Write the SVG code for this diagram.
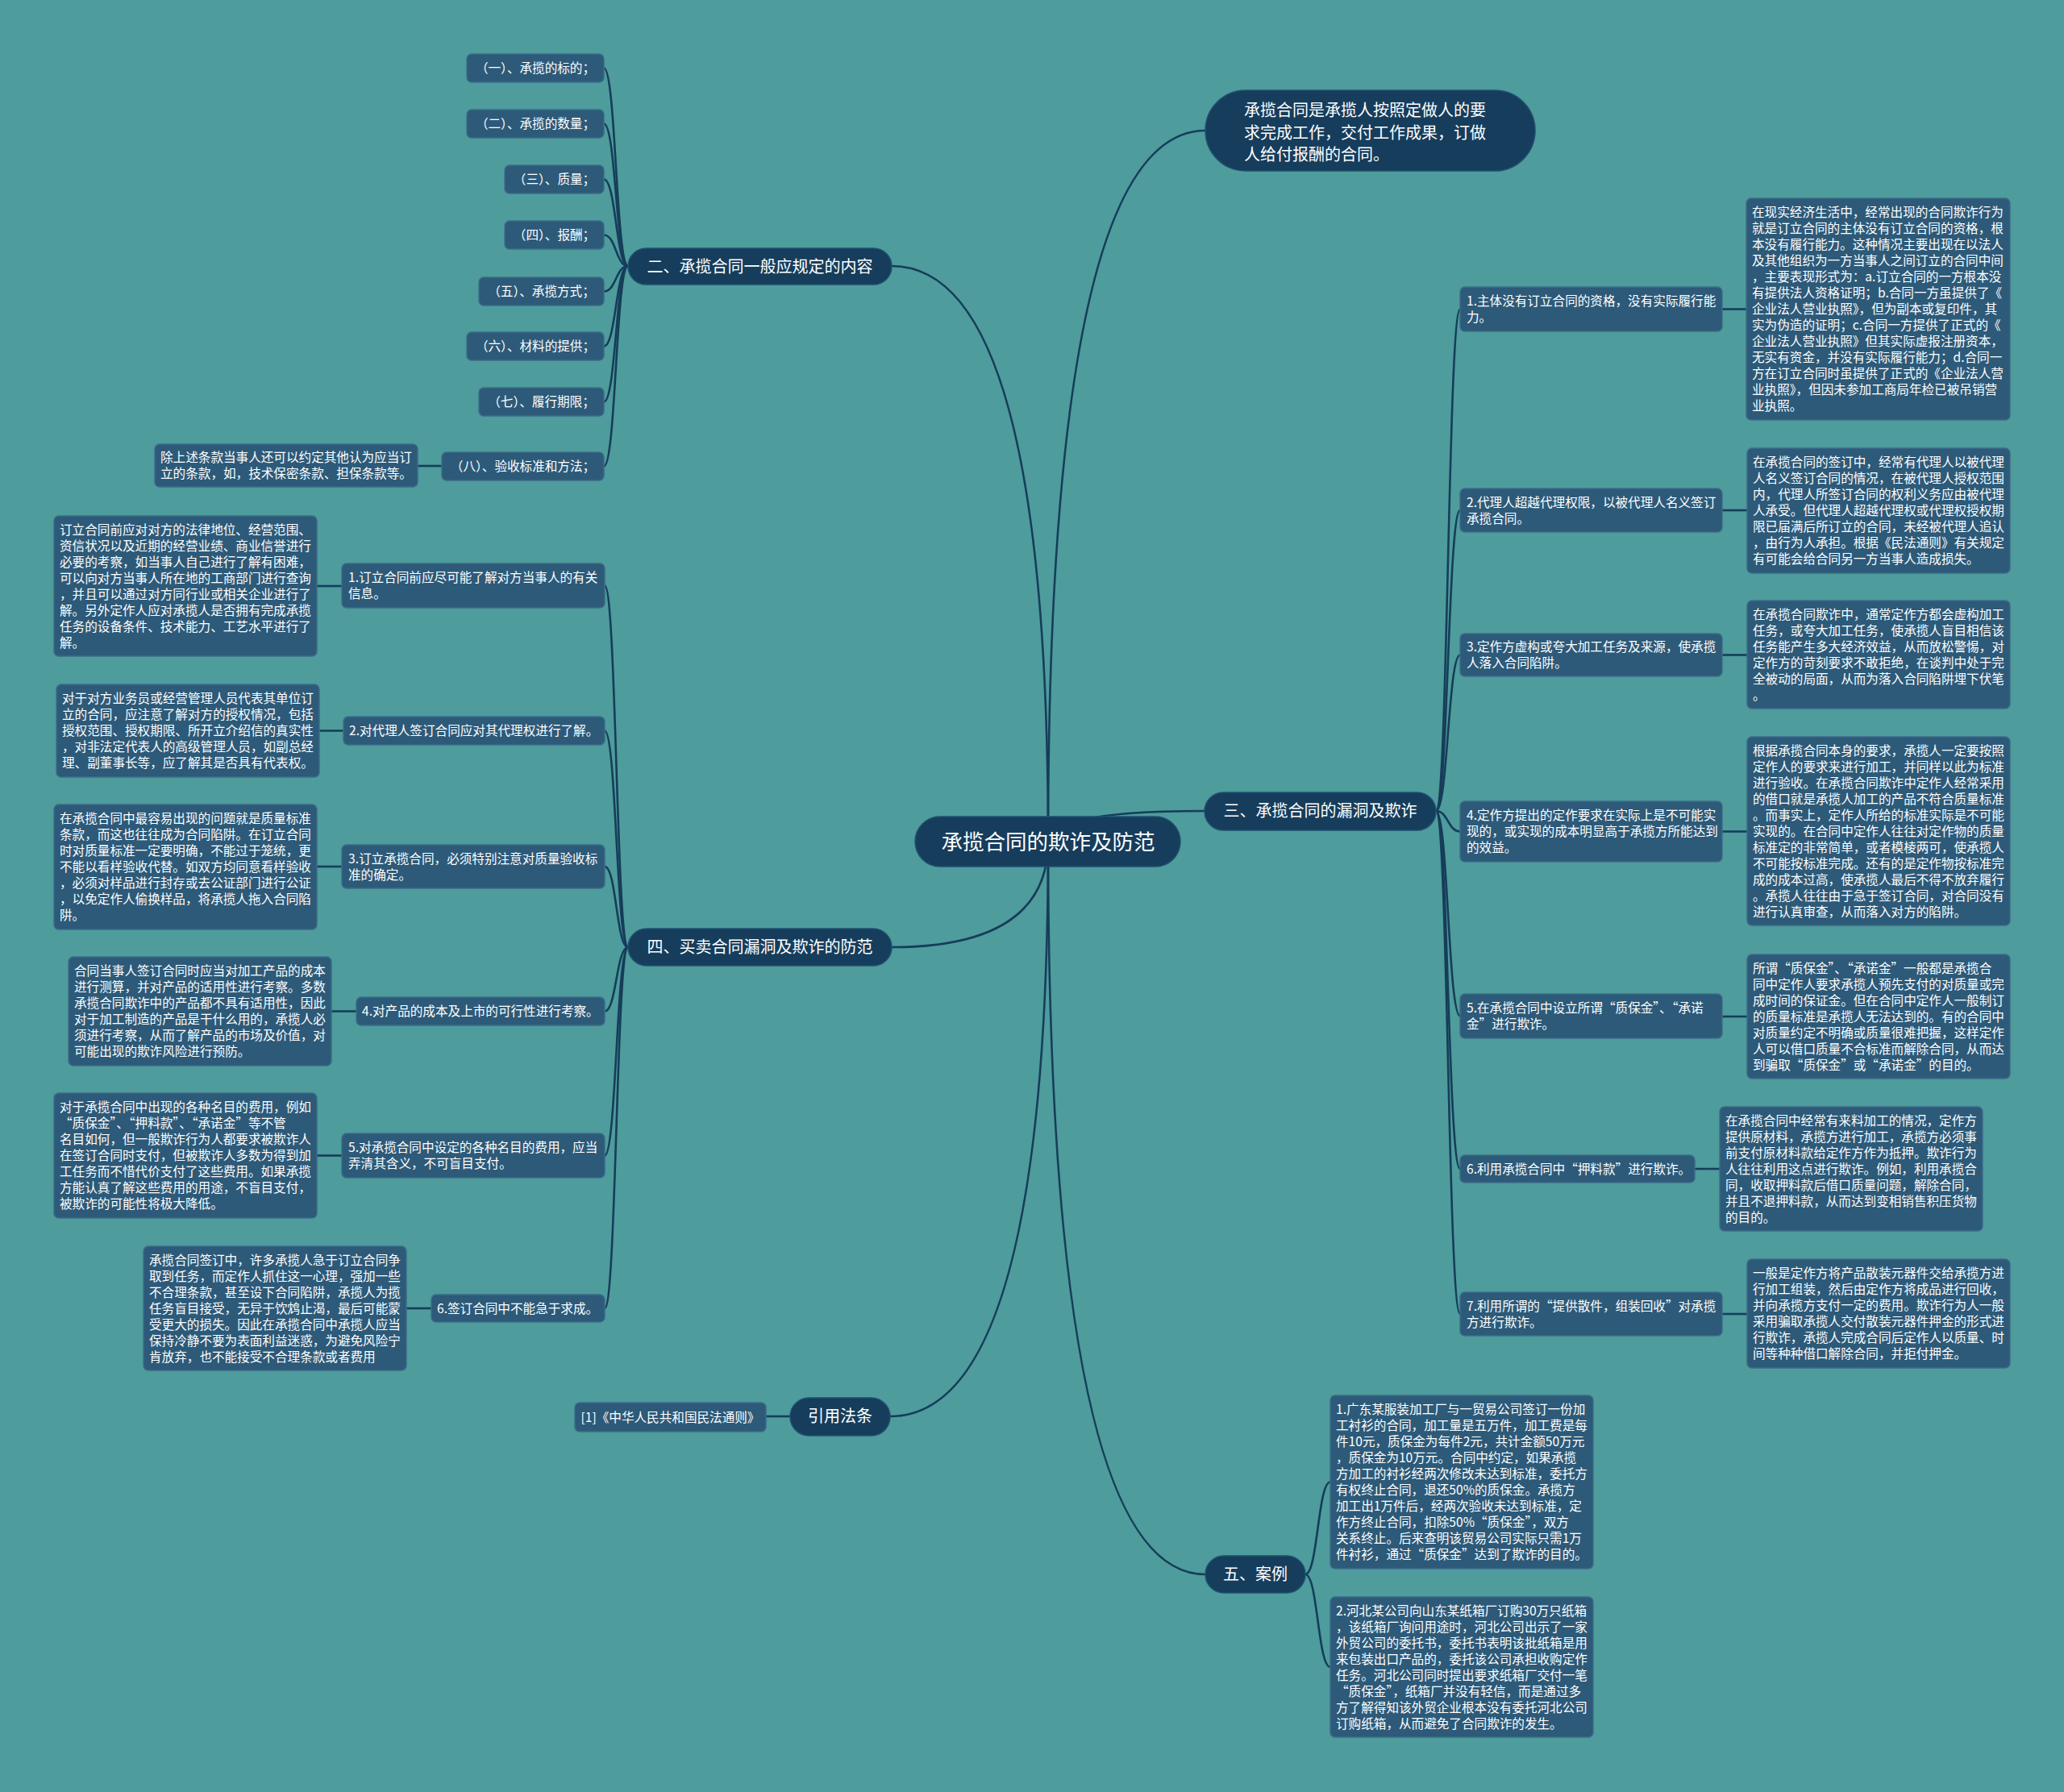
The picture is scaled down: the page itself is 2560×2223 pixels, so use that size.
<svg xmlns="http://www.w3.org/2000/svg" width="2560" height="2223" viewBox="0 0 2560 2223">
<style>
.link{fill:none;stroke:#163d5a;stroke-width:2.6}
.main{fill:#163d5c;stroke:#21506f;stroke-width:1.5}
.leaf{fill:#2d5a79;stroke:#3c6c89;stroke-width:1.5}
text{font-family:"Noto Sans CJK SC","Noto Sans",sans-serif;fill:#ffffff}
.f26{font-size:26.5px;text-anchor:middle}
.f20{font-size:20px}
.c20{font-size:20px;text-anchor:middle}
.f15{font-size:15.6px}
.c15{font-size:15.6px;text-anchor:middle}
.q{font-variant-east-asian:full-width;font-feature-settings:"fwid" 1}
</style>
<rect x="0" y="0" width="2560" height="2223" fill="#4e9c9c"/>
<g id="connectors">
<path class="link" d="M1300,1044 Q1300,162 1495,162"/>
<path class="link" d="M1300,1044 Q1300,1006 1494,1006"/>
<path class="link" d="M1300,1044 Q1300,1953 1495,1953"/>
<path class="link" d="M1300,1044 Q1300,330 1106,330"/>
<path class="link" d="M1300,1044 Q1300,1175 1106,1175"/>
<path class="link" d="M1300,1044 Q1300,1757 1104,1757"/>
<path class="link" d="M779,330 C764,330 764,84.5 749,84.5"/>
<path class="link" d="M779,330 C764,330 764,153.5 749,153.5"/>
<path class="link" d="M779,330 C764,330 764,222.5 749,222.5"/>
<path class="link" d="M779,330 C764,330 764,291.5 749,291.5"/>
<path class="link" d="M779,330 C764,330 764,361.5 749,361.5"/>
<path class="link" d="M779,330 C764,330 764,429.5 749,429.5"/>
<path class="link" d="M779,330 C764,330 764,498.5 749,498.5"/>
<path class="link" d="M779,330 C764,330 764,578.5 749,578.5"/>
<path class="link" d="M548,578 L518,578"/>
<path class="link" d="M779,1175 C764.5,1175 764.5,726.5 750,726.5"/>
<path class="link" d="M779,1175 C764.5,1175 764.5,906.5 750,906.5"/>
<path class="link" d="M779,1175 C764.5,1175 764.5,1075 750,1075"/>
<path class="link" d="M779,1175 C764.5,1175 764.5,1254.5 750,1254.5"/>
<path class="link" d="M779,1175 C764.5,1175 764.5,1433.5 750,1433.5"/>
<path class="link" d="M779,1175 C764.5,1175 764.5,1623 750,1623"/>
<path class="link" d="M424,727 L393,727"/>
<path class="link" d="M426,906.5 L396,906.5"/>
<path class="link" d="M424,1075 L393,1075"/>
<path class="link" d="M442,1254.5 L411,1254.5"/>
<path class="link" d="M424,1433.5 L393,1433.5"/>
<path class="link" d="M535,1623 L504,1623"/>
<path class="link" d="M1781,1006 C1796,1006 1796,383.5 1811,383.5"/>
<path class="link" d="M1781,1006 C1796,1006 1796,633 1811,633"/>
<path class="link" d="M1781,1006 C1796,1006 1796,812.5 1811,812.5"/>
<path class="link" d="M1781,1006 C1796,1006 1796,1031.5 1811,1031.5"/>
<path class="link" d="M1781,1006 C1796,1006 1796,1260.5 1811,1260.5"/>
<path class="link" d="M1781,1006 C1796,1006 1796,1450 1811,1450"/>
<path class="link" d="M1781,1006 C1796,1006 1796,1630 1811,1630"/>
<path class="link" d="M2136,383.5 L2166,383.5"/>
<path class="link" d="M2136,633 L2167,633"/>
<path class="link" d="M2136,812.5 L2167,812.5"/>
<path class="link" d="M2136,1031.5 L2167,1031.5"/>
<path class="link" d="M2136,1261 L2167,1261"/>
<path class="link" d="M2102,1450 L2133,1450"/>
<path class="link" d="M2136,1630 L2167,1630"/>
<path class="link" d="M1619,1953 C1634.5,1953 1634.5,1838.5 1650,1838.5"/>
<path class="link" d="M1619,1953 C1634.5,1953 1634.5,2068 1650,2068"/>
<path class="link" d="M980,1757 L950,1757"/>
</g>
<g id="root"><rect class="main" x="1135" y="1013" width="329" height="62" rx="31"/><text class="f26" x="1300" y="1053.5">承揽合同的欺诈及防范</text></g>
<g id="definition"><rect class="main" x="1495" y="112" width="409" height="100" rx="50"/><text class="f20" x="1543" y="144"><tspan x="1543" y="144">承揽合同是承揽人按照定做人的要</tspan><tspan x="1543" dy="27.5">求完成工作，交付工作成果，订做</tspan><tspan x="1543" dy="27.5">人给付报酬的合同。</tspan></text></g>
<g id="b2"><rect class="main" x="779" y="308" width="327" height="45" rx="22.5"/><text class="c20" x="942.5" y="337.5">二、承揽合同一般应规定的内容</text></g>
<g id="b3"><rect class="main" x="1494" y="983" width="287" height="47" rx="23.5"/><text class="c20" x="1637.5" y="1013">三、承揽合同的漏洞及欺诈</text></g>
<g id="b4"><rect class="main" x="779" y="1152" width="327" height="46" rx="23"/><text class="c20" x="942.5" y="1182">四、买卖合同漏洞及欺诈的防范</text></g>
<g id="b5"><rect class="main" x="1495" y="1930" width="124" height="46" rx="23"/><text class="c20" x="1557" y="1960">五、案例</text></g>
<g id="blaw"><rect class="main" x="980" y="1734" width="124" height="47" rx="23.5"/><text class="c20" x="1042" y="1764">引用法条</text></g>
<g id="law1"><rect class="leaf" x="713" y="1740" width="237" height="36" rx="6"/><text class="c15" x="831.5" y="1763.6">[1]《中华人民共和国民法通则》</text></g>
<g id="k1"><rect class="leaf" x="579" y="67" width="170" height="35" rx="6"/><text class="c15" x="664" y="90.1">（一）、承揽的标的；</text></g>
<g id="k2"><rect class="leaf" x="579" y="136" width="170" height="35" rx="6"/><text class="c15" x="664" y="159.1">（二）、承揽的数量；</text></g>
<g id="k3"><rect class="leaf" x="626" y="205" width="123" height="35" rx="6"/><text class="c15" x="687.5" y="228.1">（三）、质量；</text></g>
<g id="k4"><rect class="leaf" x="626" y="274" width="123" height="35" rx="6"/><text class="c15" x="687.5" y="297.1">（四）、报酬；</text></g>
<g id="k5"><rect class="leaf" x="594" y="344" width="155" height="35" rx="6"/><text class="c15" x="671.5" y="367.1">（五）、承揽方式；</text></g>
<g id="k6"><rect class="leaf" x="579" y="412" width="170" height="35" rx="6"/><text class="c15" x="664" y="435.1">（六）、材料的提供；</text></g>
<g id="k7"><rect class="leaf" x="594" y="481" width="155" height="35" rx="6"/><text class="c15" x="671.5" y="504.1">（七）、履行期限；</text></g>
<g id="k8"><rect class="leaf" x="548" y="561" width="201" height="35" rx="6"/><text class="c15" x="648.5" y="584.1">（八）、验收标准和方法；</text></g>
<g id="k8d"><rect class="leaf" x="192" y="551" width="326" height="53" rx="6"/><text class="f15" x="199" y="573.1"><tspan x="199" y="573.1">除上述条款当事人还可以约定其他认为应当订</tspan><tspan x="199" dy="20">立的条款，如，技术保密条款、担保条款等。</tspan></text></g>
<g id="p1"><rect class="leaf" x="424" y="699" width="326" height="55" rx="6"/><text class="f15" x="432" y="722.1"><tspan x="432" y="722.1">1.订立合同前应尽可能了解对方当事人的有关</tspan><tspan x="432" dy="20">信息。</tspan></text></g>
<g id="p1d"><rect class="leaf" x="67" y="640" width="326" height="174" rx="6"/><text class="f15" x="74" y="662.6"><tspan x="74" y="662.6">订立合同前应对对方的法律地位、经营范围、</tspan><tspan x="74" dy="20">资信状况以及近期的经营业绩、商业信誉进行</tspan><tspan x="74" dy="20">必要的考察，如当事人自己进行了解有困难，</tspan><tspan x="74" dy="20">可以向对方当事人所在地的工商部门进行查询</tspan><tspan x="74" dy="20">，并且可以通过对方同行业或相关企业进行了</tspan><tspan x="74" dy="20">解。另外定作人应对承揽人是否拥有完成承揽</tspan><tspan x="74" dy="20">任务的设备条件、技术能力、工艺水平进行了</tspan><tspan x="74" dy="20">解。</tspan></text></g>
<g id="p2"><rect class="leaf" x="426" y="889" width="324" height="35" rx="6"/><text class="f15" x="433" y="912.1">2.对代理人签订合同应对其代理权进行了解。</text></g>
<g id="p2d"><rect class="leaf" x="70" y="849" width="326" height="115" rx="6"/><text class="f15" x="77" y="872.1"><tspan x="77" y="872.1">对于对方业务员或经营管理人员代表其单位订</tspan><tspan x="77" dy="20">立的合同，应注意了解对方的授权情况，包括</tspan><tspan x="77" dy="20">授权范围、授权期限、所开立介绍信的真实性</tspan><tspan x="77" dy="20">，对非法定代表人的高级管理人员，如副总经</tspan><tspan x="77" dy="20">理、副董事长等，应了解其是否具有代表权。</tspan></text></g>
<g id="p3"><rect class="leaf" x="424" y="1048" width="326" height="54" rx="6"/><text class="f15" x="432" y="1070.6"><tspan x="432" y="1070.6">3.订立承揽合同，必须特别注意对质量验收标</tspan><tspan x="432" dy="20">准的确定。</tspan></text></g>
<g id="p3d"><rect class="leaf" x="67" y="998" width="326" height="155" rx="6"/><text class="f15" x="74" y="1021.1"><tspan x="74" y="1021.1">在承揽合同中最容易出现的问题就是质量标准</tspan><tspan x="74" dy="20">条款，而这也往往成为合同陷阱。在订立合同</tspan><tspan x="74" dy="20">时对质量标准一定要明确，不能过于笼统，更</tspan><tspan x="74" dy="20">不能以看样验收代替。如双方均同意看样验收</tspan><tspan x="74" dy="20">，必须对样品进行封存或去公证部门进行公证</tspan><tspan x="74" dy="20">，以免定作人偷换样品，将承揽人拖入合同陷</tspan><tspan x="74" dy="20">阱。</tspan></text></g>
<g id="p4"><rect class="leaf" x="442" y="1237" width="308" height="35" rx="6"/><text class="f15" x="449" y="1260.1">4.对产品的成本及上市的可行性进行考察。</text></g>
<g id="p4d"><rect class="leaf" x="85" y="1187" width="326" height="135" rx="6"/><text class="f15" x="92" y="1210.1"><tspan x="92" y="1210.1">合同当事人签订合同时应当对加工产品的成本</tspan><tspan x="92" dy="20">进行测算，并对产品的适用性进行考察。多数</tspan><tspan x="92" dy="20">承揽合同欺诈中的产品都不具有适用性，因此</tspan><tspan x="92" dy="20">对于加工制造的产品是干什么用的，承揽人必</tspan><tspan x="92" dy="20">须进行考察，从而了解产品的市场及价值，对</tspan><tspan x="92" dy="20">可能出现的欺诈风险进行预防。</tspan></text></g>
<g id="p5"><rect class="leaf" x="424" y="1406" width="326" height="55" rx="6"/><text class="f15" x="432" y="1429.1"><tspan x="432" y="1429.1">5.对承揽合同中设定的各种名目的费用，应当</tspan><tspan x="432" dy="20">弄清其含义，不可盲目支付。</tspan></text></g>
<g id="p5d"><rect class="leaf" x="67" y="1356" width="326" height="155" rx="6"/><text class="f15" x="74" y="1379.1"><tspan x="74" y="1379.1">对于承揽合同中出现的各种名目的费用，例如</tspan><tspan x="74" dy="20" class="q">“质保金”、“押料款”、“承诺金”等不管</tspan><tspan x="74" dy="20">名目如何，但一般欺诈行为人都要求被欺诈人</tspan><tspan x="74" dy="20">在签订合同时支付，但被欺诈人多数为得到加</tspan><tspan x="74" dy="20">工任务而不惜代价支付了这些费用。如果承揽</tspan><tspan x="74" dy="20">方能认真了解这些费用的用途，不盲目支付，</tspan><tspan x="74" dy="20">被欺诈的可能性将极大降低。</tspan></text></g>
<g id="p6"><rect class="leaf" x="535" y="1606" width="215" height="34" rx="6"/><text class="f15" x="542" y="1628.6">6.签订合同中不能急于求成。</text></g>
<g id="p6d"><rect class="leaf" x="178" y="1546" width="326" height="154" rx="6"/><text class="f15" x="185" y="1568.6"><tspan x="185" y="1568.6">承揽合同签订中，许多承揽人急于订立合同争</tspan><tspan x="185" dy="20">取到任务，而定作人抓住这一心理，强加一些</tspan><tspan x="185" dy="20">不合理条款，甚至设下合同陷阱，承揽人为揽</tspan><tspan x="185" dy="20">任务盲目接受，无异于饮鸩止渴，最后可能蒙</tspan><tspan x="185" dy="20">受更大的损失。因此在承揽合同中承揽人应当</tspan><tspan x="185" dy="20">保持冷静不要为表面利益迷惑，为避免风险宁</tspan><tspan x="185" dy="20">肯放弃，也不能接受不合理条款或者费用</tspan></text></g>
<g id="r1"><rect class="leaf" x="1811" y="356" width="325" height="55" rx="6"/><text class="f15" x="1819" y="379.1"><tspan x="1819" y="379.1">1.主体没有订立合同的资格，没有实际履行能</tspan><tspan x="1819" dy="20">力。</tspan></text></g>
<g id="r1d"><rect class="leaf" x="2166" y="246" width="327" height="275" rx="6"/><text class="f15" x="2173" y="269.1"><tspan x="2173" y="269.1">在现实经济生活中，经常出现的合同欺诈行为</tspan><tspan x="2173" dy="20">就是订立合同的主体没有订立合同的资格，根</tspan><tspan x="2173" dy="20">本没有履行能力。这种情况主要出现在以法人</tspan><tspan x="2173" dy="20">及其他组织为一方当事人之间订立的合同中间</tspan><tspan x="2173" dy="20">，主要表现形式为：a.订立合同的一方根本没</tspan><tspan x="2173" dy="20">有提供法人资格证明；b.合同一方虽提供了《</tspan><tspan x="2173" dy="20">企业法人营业执照》，但为副本或复印件，其</tspan><tspan x="2173" dy="20">实为伪造的证明；c.合同一方提供了正式的《</tspan><tspan x="2173" dy="20">企业法人营业执照》但其实际虚报注册资本，</tspan><tspan x="2173" dy="20">无实有资金，并没有实际履行能力；d.合同一</tspan><tspan x="2173" dy="20">方在订立合同时虽提供了正式的《企业法人营</tspan><tspan x="2173" dy="20">业执照》，但因未参加工商局年检已被吊销营</tspan><tspan x="2173" dy="20">业执照。</tspan></text></g>
<g id="r2"><rect class="leaf" x="1811" y="606" width="325" height="54" rx="6"/><text class="f15" x="1819" y="628.6"><tspan x="1819" y="628.6">2.代理人超越代理权限，以被代理人名义签订</tspan><tspan x="1819" dy="20">承揽合同。</tspan></text></g>
<g id="r2d"><rect class="leaf" x="2167" y="556" width="326" height="155" rx="6"/><text class="f15" x="2174" y="579.1"><tspan x="2174" y="579.1">在承揽合同的签订中，经常有代理人以被代理</tspan><tspan x="2174" dy="20">人名义签订合同的情况，在被代理人授权范围</tspan><tspan x="2174" dy="20">内，代理人所签订合同的权利义务应由被代理</tspan><tspan x="2174" dy="20">人承受。但代理人超越代理权或代理权授权期</tspan><tspan x="2174" dy="20">限已届满后所订立的合同，未经被代理人追认</tspan><tspan x="2174" dy="20">，由行为人承担。根据《民法通则》有关规定</tspan><tspan x="2174" dy="20">有可能会给合同另一方当事人造成损失。</tspan></text></g>
<g id="r3"><rect class="leaf" x="1811" y="786" width="325" height="53" rx="6"/><text class="f15" x="1819" y="808.1"><tspan x="1819" y="808.1">3.定作方虚构或夸大加工任务及来源，使承揽</tspan><tspan x="1819" dy="20">人落入合同陷阱。</tspan></text></g>
<g id="r3d"><rect class="leaf" x="2167" y="745" width="326" height="134" rx="6"/><text class="f15" x="2174" y="767.6"><tspan x="2174" y="767.6">在承揽合同欺诈中，通常定作方都会虚构加工</tspan><tspan x="2174" dy="20">任务，或夸大加工任务，使承揽人盲目相信该</tspan><tspan x="2174" dy="20">任务能产生多大经济效益，从而放松警惕，对</tspan><tspan x="2174" dy="20">定作方的苛刻要求不敢拒绝，在谈判中处于完</tspan><tspan x="2174" dy="20">全被动的局面，从而为落入合同陷阱埋下伏笔</tspan><tspan x="2174" dy="20">。</tspan></text></g>
<g id="r4"><rect class="leaf" x="1811" y="994" width="325" height="75" rx="6"/><text class="f15" x="1819" y="1017.1"><tspan x="1819" y="1017.1">4.定作方提出的定作要求在实际上是不可能实</tspan><tspan x="1819" dy="20">现的，或实现的成本明显高于承揽方所能达到</tspan><tspan x="1819" dy="20">的效益。</tspan></text></g>
<g id="r4d"><rect class="leaf" x="2167" y="914" width="326" height="234" rx="6"/><text class="f15" x="2174" y="936.6"><tspan x="2174" y="936.6">根据承揽合同本身的要求，承揽人一定要按照</tspan><tspan x="2174" dy="20">定作人的要求来进行加工，并同样以此为标准</tspan><tspan x="2174" dy="20">进行验收。在承揽合同欺诈中定作人经常采用</tspan><tspan x="2174" dy="20">的借口就是承揽人加工的产品不符合质量标准</tspan><tspan x="2174" dy="20">。而事实上，定作人所给的标准实际是不可能</tspan><tspan x="2174" dy="20">实现的。在合同中定作人往往对定作物的质量</tspan><tspan x="2174" dy="20">标准定的非常简单，或者模棱两可，使承揽人</tspan><tspan x="2174" dy="20">不可能按标准完成。还有的是定作物按标准完</tspan><tspan x="2174" dy="20">成的成本过高，使承揽人最后不得不放弃履行</tspan><tspan x="2174" dy="20">。承揽人往往由于急于签订合同，对合同没有</tspan><tspan x="2174" dy="20">进行认真审查，从而落入对方的陷阱。</tspan></text></g>
<g id="r5"><rect class="leaf" x="1811" y="1233" width="325" height="55" rx="6"/><text class="f15" x="1819" y="1256.1"><tspan x="1819" y="1256.1">5.在承揽合同中设立所谓<tspan class="q">“质保金”、“承诺</tspan></tspan><tspan x="1819" dy="20" class="q">金”进行欺诈。</tspan></text></g>
<g id="r5d"><rect class="leaf" x="2167" y="1184" width="326" height="154" rx="6"/><text class="f15" x="2174" y="1206.6"><tspan x="2174" y="1206.6" class="q">所谓“质保金”、“承诺金”一般都是承揽合</tspan><tspan x="2174" dy="20">同中定作人要求承揽人预先支付的对质量或完</tspan><tspan x="2174" dy="20">成时间的保证金。但在合同中定作人一般制订</tspan><tspan x="2174" dy="20">的质量标准是承揽人无法达到的。有的合同中</tspan><tspan x="2174" dy="20">对质量约定不明确或质量很难把握，这样定作</tspan><tspan x="2174" dy="20">人可以借口质量不合标准而解除合同，从而达</tspan><tspan x="2174" dy="20" class="q">到骗取“质保金”或“承诺金”的目的。</tspan></text></g>
<g id="r6"><rect class="leaf" x="1811" y="1433" width="291" height="34" rx="6"/><text class="f15" x="1819" y="1455.6">6.利用承揽合同中<tspan class="q">“押料款”进行欺诈。</tspan></text></g>
<g id="r6d"><rect class="leaf" x="2133" y="1373" width="326" height="154" rx="6"/><text class="f15" x="2140" y="1395.6"><tspan x="2140" y="1395.6">在承揽合同中经常有来料加工的情况，定作方</tspan><tspan x="2140" dy="20">提供原材料，承揽方进行加工，承揽方必须事</tspan><tspan x="2140" dy="20">前支付原材料款给定作方作为抵押。欺诈行为</tspan><tspan x="2140" dy="20">人往往利用这点进行欺诈。例如，利用承揽合</tspan><tspan x="2140" dy="20">同，收取押料款后借口质量问题，解除合同，</tspan><tspan x="2140" dy="20">并且不退押料款，从而达到变相销售积压货物</tspan><tspan x="2140" dy="20">的目的。</tspan></text></g>
<g id="r7"><rect class="leaf" x="1811" y="1603" width="325" height="54" rx="6"/><text class="f15" x="1819" y="1625.6"><tspan x="1819" y="1625.6">7.利用所谓的<tspan class="q">“提供散件，组装回收”对承揽</tspan></tspan><tspan x="1819" dy="20">方进行欺诈。</tspan></text></g>
<g id="r7d"><rect class="leaf" x="2167" y="1562" width="326" height="135" rx="6"/><text class="f15" x="2174" y="1585.1"><tspan x="2174" y="1585.1">一般是定作方将产品散装元器件交给承揽方进</tspan><tspan x="2174" dy="20">行加工组装，然后由定作方将成品进行回收，</tspan><tspan x="2174" dy="20">并向承揽方支付一定的费用。欺诈行为人一般</tspan><tspan x="2174" dy="20">采用骗取承揽人交付散装元器件押金的形式进</tspan><tspan x="2174" dy="20">行欺诈，承揽人完成合同后定作人以质量、时</tspan><tspan x="2174" dy="20">间等种种借口解除合同，并拒付押金。</tspan></text></g>
<g id="case1"><rect class="leaf" x="1650" y="1731" width="326" height="215" rx="6"/><text class="f15" x="1657" y="1754.1"><tspan x="1657" y="1754.1">1.广东某服装加工厂与一贸易公司签订一份加</tspan><tspan x="1657" dy="20">工衬衫的合同，加工量是五万件，加工费是每</tspan><tspan x="1657" dy="20">件10元，质保金为每件2元，共计金额50万元</tspan><tspan x="1657" dy="20">，质保金为10万元。合同中约定，如果承揽</tspan><tspan x="1657" dy="20">方加工的衬衫经两次修改未达到标准，委托方</tspan><tspan x="1657" dy="20">有权终止合同，退还50%的质保金。承揽方</tspan><tspan x="1657" dy="20">加工出1万件后，经两次验收未达到标准，定</tspan><tspan x="1657" dy="20">作方终止合同，扣除50%<tspan class="q">“质保金”，双方</tspan></tspan><tspan x="1657" dy="20">关系终止。后来查明该贸易公司实际只需1万</tspan><tspan x="1657" dy="20" class="q">件衬衫，通过“质保金”达到了欺诈的目的。</tspan></text></g>
<g id="case2"><rect class="leaf" x="1650" y="1981" width="326" height="174" rx="6"/><text class="f15" x="1657" y="2003.6"><tspan x="1657" y="2003.6">2.河北某公司向山东某纸箱厂订购30万只纸箱</tspan><tspan x="1657" dy="20">，该纸箱厂询问用途时，河北公司出示了一家</tspan><tspan x="1657" dy="20">外贸公司的委托书，委托书表明该批纸箱是用</tspan><tspan x="1657" dy="20">来包装出口产品的，委托该公司承担收购定作</tspan><tspan x="1657" dy="20">任务。河北公司同时提出要求纸箱厂交付一笔</tspan><tspan x="1657" dy="20" class="q">“质保金”，纸箱厂并没有轻信，而是通过多</tspan><tspan x="1657" dy="20">方了解得知该外贸企业根本没有委托河北公司</tspan><tspan x="1657" dy="20">订购纸箱，从而避免了合同欺诈的发生。</tspan></text></g>
</svg>
